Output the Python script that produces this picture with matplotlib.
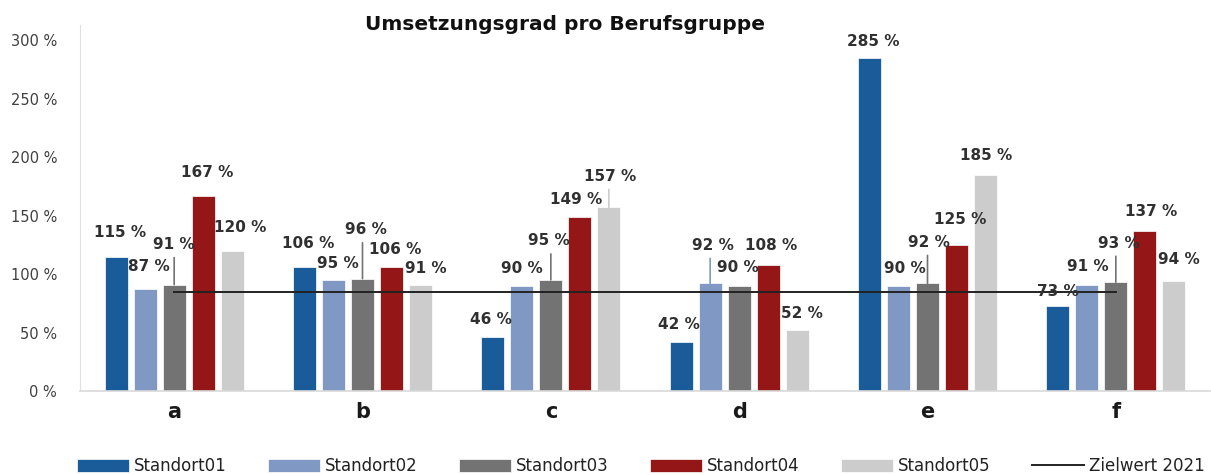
import numpy as np
import matplotlib
matplotlib.use("Agg")
import matplotlib.pyplot as plt

# data
categories = ["a", "b", "c", "d", "e", "f"]
series = ["Standort01", "Standort02", "Standort03", "Standort04", "Standort05"]
standort01 = [115, 106, 46, 42, 285, 73]
standort02 = [87, 95, 90, 92, 90, 91]
standort03 = [91, 96, 95, 90, 92, 93]
standort04 = [167, 106, 149, 108, 125, 137]
standort05 = [120, 91, 157, 52, 185, 94]
zielwert = 85
yticks = [0, 50, 100, 150, 200, 250, 300]

values = [standort01, standort02, standort03, standort04, standort05]
colors = ["#1a5c99", "#7f99c4", "#737373", "#951616", "#cccccc"]

# label placement (pixels above bar top / sideways), per category then series
label_dy = [[24, 23, 40, 23, 23],
            [24, 16, 49, 18, 16],
            [18, 17, 39, 17, 31],
            [17, 38, 18, 19, 17],
            [16, 17, 41, 25, 19],
            [14, 18, 39, 19, 22]]
label_dx = [[4, 4, 0, 4, 8],
            [4, 4, 3, 4, 5],
            [-2, 0, -2, -4, 1],
            [-2, 3, -1, 3, 5],
            [4, 6, 1, 4, 1],
            [0, 1, 3, 6, 5]]
leaders = {(0, 2), (1, 2), (2, 2), (2, 4), (3, 1), (4, 2), (5, 2)}

fig = plt.figure(figsize=(12.11, 4.75), dpi=100)
ax = fig.add_axes([80 / 1211, 84 / 475, 1130 / 1211, 366 / 475])

x = np.arange(len(categories))
width = 0.122
pitch = 0.154

handles = []
for i, (name, vals, col) in enumerate(zip(series, values, colors)):
    xs = x + (i - 2) * pitch
    b = ax.bar(xs, vals, width, color=col, label=name, edgecolor="white", linewidth=0.5)
    handles.append(b)
    for j, v in enumerate(vals):
        dy = label_dy[j][i]
        dx = label_dx[j][i]
        ax.annotate("%d %%" % v, xy=(xs[j], v), xytext=(dx, dy),
                    textcoords="offset pixels", ha="center", va="center",
                    fontsize=11, fontweight="bold", color="#303030")
        if (j, i) in leaders:
            ax.annotate("", xy=(xs[j], v), xytext=(0, dy - 13),
                        textcoords="offset pixels",
                        arrowprops=dict(arrowstyle="-", color=col, lw=1.2,
                                        shrinkA=0, shrinkB=0))

line, = ax.plot(x, [zielwert] * len(x), color="#222222", lw=1.4, label="Zielwert 2021")
handles.append(line)

ax.set_xlim(-0.5, len(categories) - 0.5)
ax.set_ylim(0, 313)
ax.set_yticks(yticks)
ax.set_yticklabels(["%d %%" % t for t in yticks], fontsize=10.5, color="#404040")
ax.set_xticks(x)
ax.set_xticklabels(categories, fontsize=15, fontweight="bold", color="#1a1a1a")
ax.tick_params(axis="both", length=0)
ax.tick_params(axis="y", pad=16.5)
ax.tick_params(axis="x", pad=8)

for s in ["top", "right"]:
    ax.spines[s].set_visible(False)
ax.spines["left"].set_color("#e0e0e0")
ax.spines["bottom"].set_color("#d9d9d9")
ax.spines["bottom"].set_linewidth(1.2)

fig.text(565 / 1211, 1 - 25 / 475, "Umsetzungsgrad pro Berufsgruppe", ha="center",
         va="center", fontsize=14.5, fontweight="bold", color="#111111")

fig.legend(handles=handles, labels=series + ["Zielwert 2021"],
           loc="center", bbox_to_anchor=(641 / 1211, 9 / 475), ncol=6, frameon=False,
           fontsize=12, handlelength=3.1, handleheight=0.8, handletextpad=0.3,
           columnspacing=2.5, labelcolor="#222222")

fig.savefig("out.png", dpi=100)
